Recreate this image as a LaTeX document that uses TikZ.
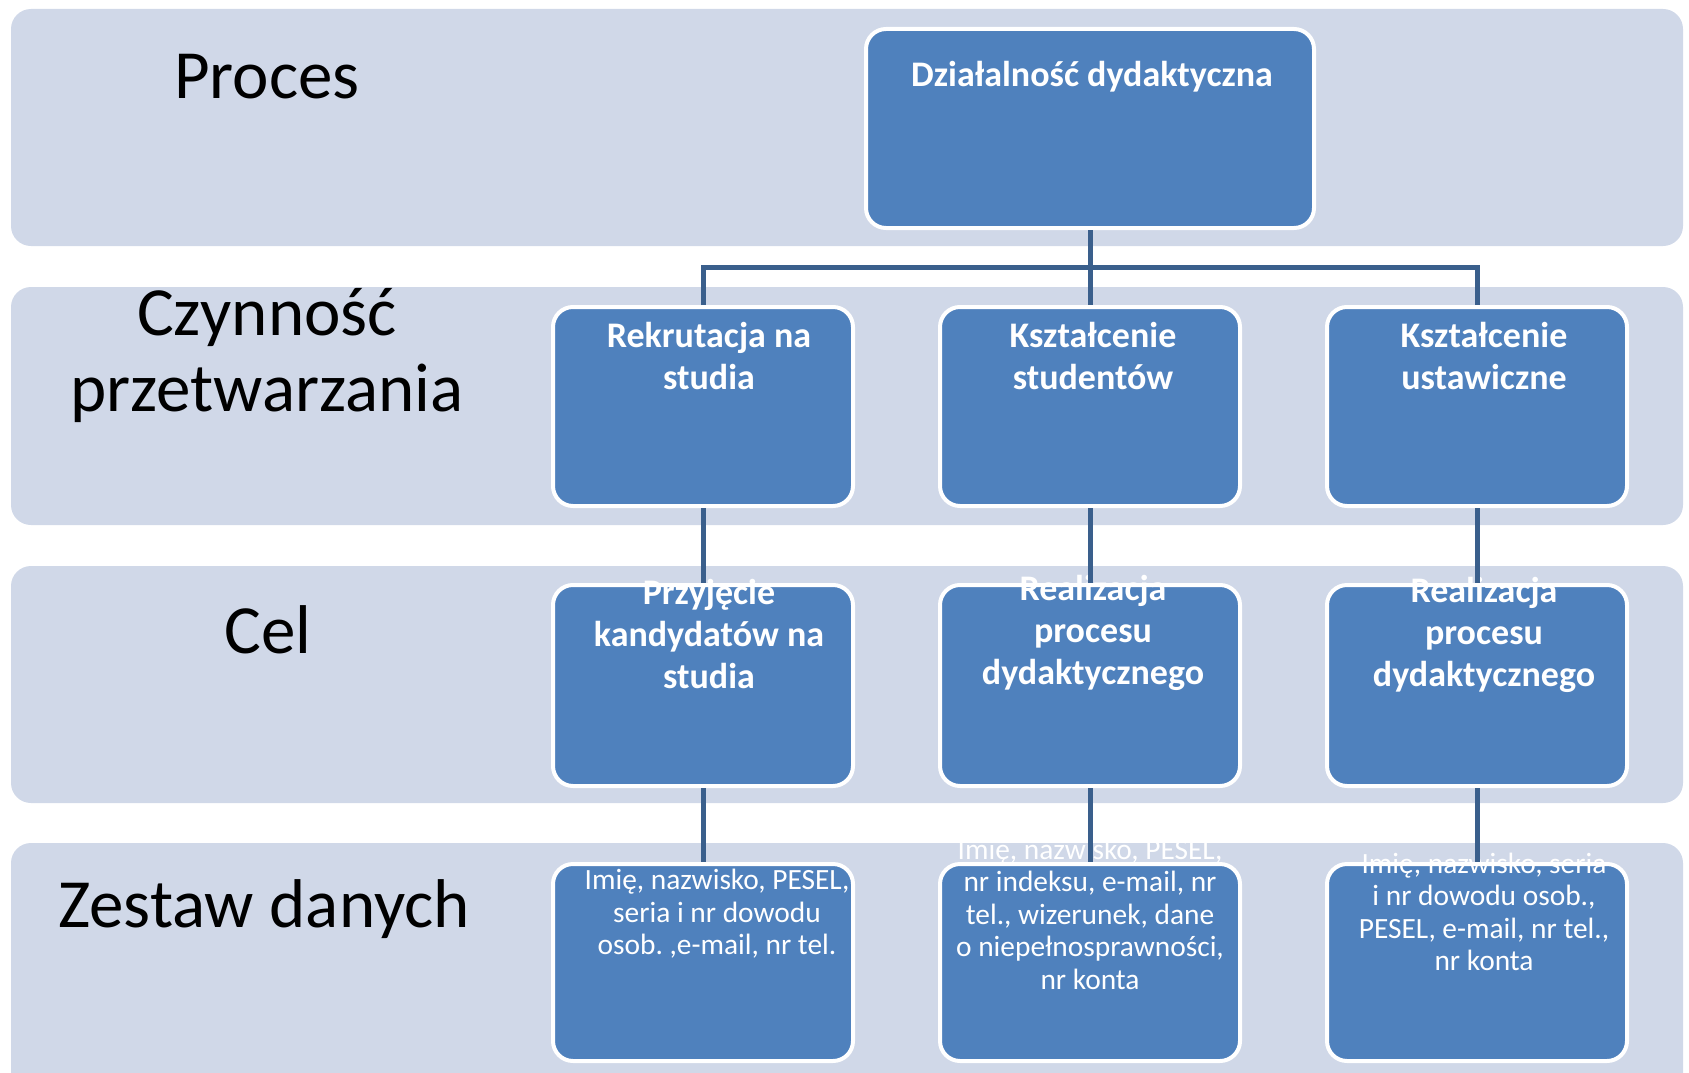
\documentclass[tikz,border=0pt]{standalone}
\usepackage{fontspec}
\setmainfont{Carlito}
\frenchspacing
\definecolor{bandc}{HTML}{D0D8E8}
\definecolor{boxc}{HTML}{4F81BD}
\definecolor{linec}{HTML}{3A5F8C}
\begin{document}
\begin{tikzpicture}[x=1pt,y=-1pt,
  band/.style={fill=bandc,draw=none,rounded corners=20pt},
  bx/.style={draw=white,line width=4pt,fill=boxc,rounded corners=20pt,minimum width=300pt,inner sep=0pt},
  lbl/.style={font=\fontsize{69}{76}\selectfont,text=black,align=center,inner sep=0pt},
  btxt/.style={font=\fontsize{36}{42}\selectfont\bfseries,text=white,align=center,inner sep=0pt},
  rtxt/.style={font=\fontsize{29.4}{32.5}\selectfont,text=white,align=center,inner sep=0pt},
  conn/.style={draw=linec,line width=5pt}]
\useasboundingbox (0,0) rectangle (1689,1073);
% bands
\fill[band] (11,9) rectangle (1683,246);
\fill[band] (11,287) rectangle (1683,525);
\fill[band] (11,566) rectangle (1683,803);
\fill[band] (11,843) rectangle (1683,1095);
% left labels
\node[lbl] (lp) at (267,77) {Proces};
\node[lbl] (lc) at (267,355) {Czynność\\przetwarzania};
\node[lbl] (lg) at (268,630) {Cel};
\node[lbl] (lz) at (264,909) {Zestaw danych};
% boxes
\node[bx,minimum width=448pt,minimum height=199pt] (top) at (1090,128.5) {};
\node[bx,minimum height=199pt] (a1) at (703,406.5) {};
\node[bx,minimum height=199pt] (a2) at (1090,406.5) {};
\node[bx,minimum height=199pt] (a3) at (1477,406.5) {};
\node[bx,minimum height=201pt] (b1) at (703,685.5) {};
\node[bx,minimum height=201pt] (b2) at (1090,685.5) {};
\node[bx,minimum height=201pt] (b3) at (1477,685.5) {};
\node[bx,minimum height=197pt] (c1) at (703,962.5) {};
\node[bx,minimum height=197pt] (c2) at (1090,962.5) {};
\node[bx,minimum height=197pt] (c3) at (1477,962.5) {};
% box texts
\node[btxt] (ttop) at (1092,77) {Działalność dydaktyczna};
\node[btxt] (ta1) at (709,355.5) {Rekrutacja na\\studia};
\node[btxt] (ta2) at (1093,355.5) {Kształcenie\\studentów};
\node[btxt] (ta3) at (1484,355.5) {Kształcenie\\ustawiczne};
\node[btxt] (tb1) at (709,634) {Przyjęcie\\kandydatów na\\studia};
\node[btxt] (tb2) at (1093,633) {Realizacja\\procesu\\dydaktycznego};
\node[btxt] (tb3) at (1484,635) {Realizacja\\procesu\\dydaktycznego};
\node[rtxt] (tc1) at (717,914) {Imię, nazwisko, PESEL,\\seria i nr dowodu\\osob. ,e-mail, nr tel.};
\node[rtxt] (tc2) at (1090,914) {Imię, nazwisko, PESEL,\\nr indeksu, e-mail, nr\\tel., wizerunek, dane\\o niepełnosprawności,\\nr konta};
\node[rtxt] (tc3) at (1484,912) {Imię, nazwisko, seria\\i nr dowodu osob.,\\PESEL, e-mail, nr tel.,\\nr konta};
% connectors
\coordinate (bus) at (1090,267);
\draw[conn] (top.south) -- (bus);
\draw[conn] (a1.north) -- (a1.north |- bus) -- (a3.north |- bus) -- (a3.north);
\draw[conn] (bus) -- (a2.north);
\draw[conn] (a1.south) -- (b1.north);
\draw[conn] (a2.south) -- (b2.north);
\draw[conn] (a3.south) -- (b3.north);
\draw[conn] (b1.south) -- (c1.north);
\draw[conn] (b2.south) -- (c2.north);
\draw[conn] (b3.south) -- (c3.north);
\end{tikzpicture}
\end{document}
